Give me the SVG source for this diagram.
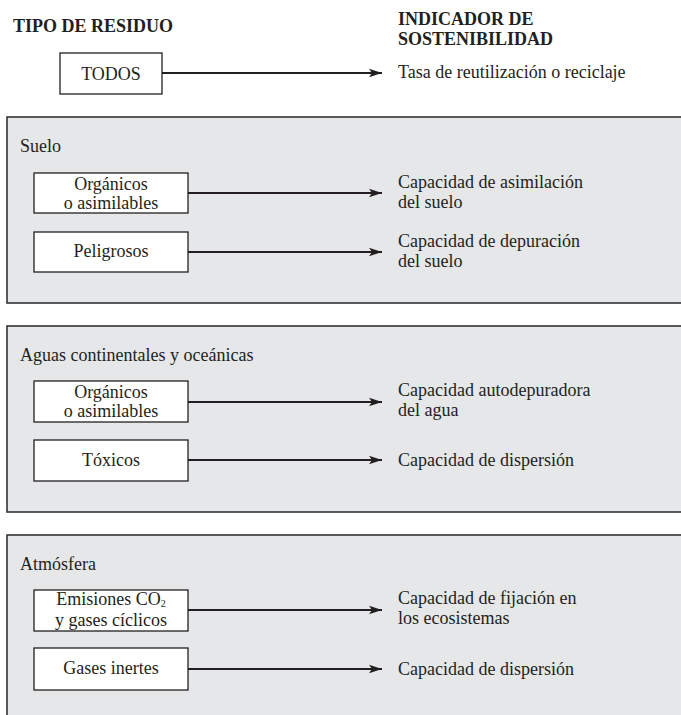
<svg xmlns="http://www.w3.org/2000/svg" width="681" height="715" viewBox="0 0 681 715">
<style>
.t{font-family:"Liberation Serif","Times New Roman",serif;font-size:18px;fill:#231f20}
.h{font-family:"Liberation Serif","Times New Roman",serif;font-size:18px;font-weight:bold;fill:#231f20}
.c{text-anchor:middle}
.panel{fill:#e6e7e8;stroke:#333;stroke-width:1.6}
.box{fill:#fff;stroke:#231f20;stroke-width:1.3}
.arr{stroke:#231f20;stroke-width:1.8;fill:none;marker-end:url(#ah)}
</style>
<defs>
<marker id="ah" markerUnits="userSpaceOnUse" markerWidth="14" markerHeight="10" refX="13" refY="5" orient="auto">
<path d="M0,0.8 L13,5 L0,9.2 L3,5 Z" fill="#231f20"/>
</marker>
</defs>
<rect width="681" height="715" fill="#fff"/>
<g id="headers">
<text class="h" x="13" y="32">TIPO DE RESIDUO</text>
<text class="h" x="398" y="25">INDICADOR DE</text>
<text class="h" x="398" y="45">SOSTENIBILIDAD</text>
</g>
<g id="panels">
<rect id="panel-suelo" class="panel" x="7" y="117" width="690" height="186"/>
<rect id="panel-aguas" class="panel" x="7" y="326" width="690" height="186"/>
<rect id="panel-atmosfera" class="panel" x="7" y="535" width="690" height="200"/>
<text class="t" x="20" y="152">Suelo</text>
<text class="t" x="20" y="361">Aguas continentales y oceánicas</text>
<text class="t" x="20" y="570">Atmósfera</text>
</g>
<g id="connectors">
<line class="arr" x1="162" y1="73" x2="382" y2="73"/>
<line class="arr" x1="188" y1="193" x2="382" y2="193"/>
<line class="arr" x1="188" y1="252" x2="382" y2="252"/>
<line class="arr" x1="188" y1="402" x2="382" y2="402"/>
<line class="arr" x1="188" y1="460" x2="382" y2="460"/>
<line class="arr" x1="188" y1="610" x2="382" y2="610"/>
<line class="arr" x1="188" y1="669" x2="382" y2="669"/>
</g>
<g id="node-todos">
<rect class="box" x="60" y="53" width="102" height="41"/>
<text class="t c" x="111" y="80">TODOS</text>
</g>
<g id="ind-todos"><text class="t" x="398" y="78">Tasa de reutilización o reciclaje</text></g>
<g id="node-suelo-organicos">
<rect class="box" x="34" y="173" width="154" height="40"/>
<text class="t c" x="111" y="190">Orgánicos</text>
<text class="t c" x="111" y="209">o asimilables</text>
</g>
<g id="ind-suelo-asimilacion">
<text class="t" x="398" y="188">Capacidad de asimilación</text>
<text class="t" x="398" y="208">del suelo</text>
</g>
<g id="node-suelo-peligrosos">
<rect class="box" x="34" y="232" width="154" height="40"/>
<text class="t c" x="111" y="257">Peligrosos</text>
</g>
<g id="ind-suelo-depuracion">
<text class="t" x="398" y="247">Capacidad de depuración</text>
<text class="t" x="398" y="267">del suelo</text>
</g>
<g id="node-aguas-organicos">
<rect class="box" x="34" y="381" width="154" height="41"/>
<text class="t c" x="111" y="398">Orgánicos</text>
<text class="t c" x="111" y="417">o asimilables</text>
</g>
<g id="ind-aguas-autodepuradora">
<text class="t" x="398" y="396">Capacidad autodepuradora</text>
<text class="t" x="398" y="416">del agua</text>
</g>
<g id="node-aguas-toxicos">
<rect class="box" x="34" y="440" width="154" height="41"/>
<text class="t c" x="111" y="466">Tóxicos</text>
</g>
<g id="ind-aguas-dispersion">
<text class="t" x="398" y="466">Capacidad de dispersión</text>
</g>
<g id="node-atm-emisiones">
<rect class="box" x="34" y="590" width="154" height="41"/>
<text class="t c" x="111" y="605">Emisiones CO<tspan font-size="10" dy="2">2</tspan></text>
<text class="t c" x="111" y="626">y gases cíclicos</text>
</g>
<g id="ind-atm-fijacion">
<text class="t" x="398" y="604">Capacidad de fijación en</text>
<text class="t" x="398" y="624">los ecosistemas</text>
</g>
<g id="node-atm-inertes">
<rect class="box" x="34" y="648" width="154" height="42"/>
<text class="t c" x="111" y="674">Gases inertes</text>
</g>
<g id="ind-atm-dispersion">
<text class="t" x="398" y="675">Capacidad de dispersión</text>
</g>
</svg>
